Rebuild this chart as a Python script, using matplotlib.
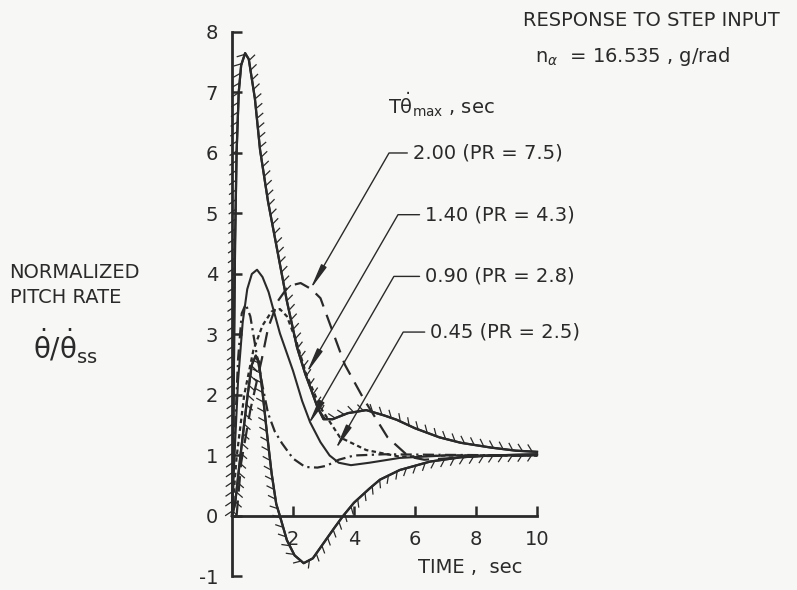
import numpy as np
import matplotlib
matplotlib.use("Agg")
import matplotlib.pyplot as plt
from matplotlib import patheffects, font_manager

# narrow lettering if a condensed face is around, else plain DejaVu a bit smaller
installed = {f.name for f in font_manager.fontManager.ttflist}
if 'DejaVu Sans Condensed' in installed:
    plt.rcParams['font.family'] = ['DejaVu Sans Condensed', 'DejaVu Sans']
    fs = 15
elif 'Liberation Sans Narrow' in installed:
    plt.rcParams['font.family'] = ['Liberation Sans Narrow', 'DejaVu Sans']
    fs = 16
else:
    plt.rcParams['font.family'] = ['DejaVu Sans']
    fs = 14
plt.rcParams['mathtext.fontset'] = 'dejavusans'
plt.rcParams['axes.unicode_minus'] = False

ink = '#2a2a2a'

# envelope boundaries (hatched)
t_upper = [0, 0.04, 0.07, 0.1, 0.15, 0.22, 0.3, 0.43, 0.55, 0.75, 0.92, 1.18, 1.5, 1.8, 2.13,
           2.4, 2.6, 2.8, 3.0, 3.3, 3.8, 4.4, 5.0, 5.4, 6.0, 6.8, 7.5, 8.5, 9.3, 10.0]
y_upper = [0, 1.0, 3.0, 4.5, 6.0, 7.0, 7.45, 7.65, 7.55, 6.9, 6.05, 5.2, 4.35, 3.55, 2.79,
           2.35, 2.08, 1.8, 1.6, 1.6, 1.7, 1.75, 1.66, 1.59, 1.45, 1.3, 1.21, 1.13, 1.08, 1.06]

t_lower = [0, 0.1, 0.3, 0.52, 0.65, 0.78, 0.88, 1.0, 1.15, 1.3, 1.45, 1.57, 1.8, 2.05,
           2.35, 2.65, 3.0, 3.35, 3.64, 4.0, 4.5, 4.85, 5.5, 6.5, 7.5, 8.5, 10.0]
y_lower = [0, 0.2, 1.1, 2.03, 2.5, 2.65, 2.55, 2.05, 1.35, 0.7, 0.2, 0, -0.4, -0.65,
           -0.78, -0.7, -0.45, -0.2, 0, 0.22, 0.45, 0.6, 0.76, 0.9, 0.97, 1.0, 1.02]

# responses, T theta-dot max = 2.00, 1.40, 0.90, 0.45 sec
t_200 = [0.15, 0.3, 0.6, 0.98, 1.18, 1.5, 1.85, 2.25, 2.6, 2.9, 3.3, 3.7, 4.3, 5.1, 5.8, 6.3, 7.0, 8.0, 10.0]
y_200 = [0, 0.88, 1.75, 2.6, 3.1, 3.55, 3.8, 3.85, 3.75, 3.6, 3.05, 2.5, 1.95, 1.3, 0.98, 0.93, 0.95, 0.99, 1.0]

t_140 = [0, 0.15, 0.4, 0.7, 1.0, 1.3, 1.57, 1.8, 2.1, 2.43, 2.89, 3.54, 4.4, 5.5, 7.0, 10.0]
y_140 = [0, 0.97, 2.0, 2.74, 3.15, 3.38, 3.42, 3.3, 2.9, 2.35, 1.8, 1.3, 1.09, 0.98, 1.0, 1.0]

t_090 = [0, 0.1, 0.2, 0.35, 0.5, 0.65, 0.82, 1.0, 1.2, 1.57, 2.0, 2.3, 2.56, 2.9, 3.2, 3.5, 3.9, 4.5, 5.5, 7.0, 10.0]
y_090 = [0, 1.2, 2.25, 3.2, 3.75, 4.0, 4.07, 3.95, 3.7, 3.02, 2.4, 1.9, 1.55, 1.22, 1.0, 0.88, 0.84, 0.88, 0.96, 1.0, 1.0]

t_045 = [0, 0.08, 0.2, 0.32, 0.45, 0.6, 0.8, 1.0, 1.18, 1.4, 1.64, 2.0, 2.4, 2.8, 3.1, 3.5, 4.0, 5.0, 7.0, 10.0]
y_045 = [0, 1.2, 2.6, 3.35, 3.5, 3.3, 2.7, 2.15, 1.7, 1.4, 1.2, 0.95, 0.81, 0.8, 0.83, 0.93, 1.0, 1.02, 1.01, 1.0]

labels = ['2.00 (PR = 7.5)', '1.40 (PR = 4.3)', '0.90 (PR = 2.8)', '0.45 (PR = 2.5)']
label_xy = [(5.93, 6.0), (6.33, 4.98), (6.33, 3.96), (6.5, 3.04)]
arrow_xy = [(2.56, 3.74), (2.43, 2.35), (2.49, 1.5), (3.38, 1.09)]

fig = plt.figure(figsize=(7.97, 5.90), dpi=100, facecolor='#f7f7f5')
ax = fig.add_axes([0.2911, 0.0229, 0.3827, 0.9229])
ax.set_facecolor('none')

hatch_up = patheffects.withTickedStroke(spacing=7, angle=125, length=0.8, linewidth=0.9)
hatch_dn = patheffects.withTickedStroke(spacing=7, angle=-125, length=0.8, linewidth=0.9)
ax.plot(t_upper, y_upper, color=ink, lw=1.6, clip_on=False,
        path_effects=[hatch_up, patheffects.Normal()])
ax.plot(t_lower, y_lower, color=ink, lw=1.6, clip_on=False,
        path_effects=[hatch_dn, patheffects.Normal()])

ax.plot(t_200, y_200, color=ink, lw=1.6, dashes=(7, 4), clip_on=False)
ax.plot(t_140, y_140, color=ink, lw=1.6, dashes=(2, 1.5), clip_on=False)
ax.plot(t_090, y_090, color=ink, lw=1.5, clip_on=False)
ax.plot(t_045, y_045, color=ink, lw=1.6, dashes=(5, 2, 1, 2), clip_on=False)

for lab, (lx, ly), (axx, ayy) in zip(labels, label_xy, arrow_xy):
    ax.annotate(lab, xy=(axx, ayy), xytext=(lx, ly), fontsize=fs, color=ink,
                va='center', ha='left', annotation_clip=False,
                arrowprops=dict(arrowstyle='-|>,head_length=1.1,head_width=0.13', color=ink, lw=1.0,
                                shrinkA=2, shrinkB=0,
                                connectionstyle='angle,angleA=0,angleB=60,rad=0'))

ax.text(5.1, 6.8, r'T$\dot{\mathrm{\theta}}_{\mathrm{max}}$ , sec', fontsize=fs, color=ink, va='center', ha='left')

ax.set_xlim(0, 10)
ax.set_ylim(-1, 8)
ax.spines['top'].set_visible(False)
ax.spines['right'].set_visible(False)
ax.spines['bottom'].set_position(('data', 0))
for s in ('left', 'bottom'):
    ax.spines[s].set_linewidth(2.0)
    ax.spines[s].set_color(ink)
ax.set_yticks(range(-1, 9))
ax.set_xticks([2, 4, 6, 8, 10])
ax.tick_params(axis='both', direction='in', length=7, width=1.8, color=ink, labelcolor=ink, labelsize=fs)
ax.tick_params(axis='y', pad=10)
ax.tick_params(axis='x', pad=10)

ax.text(7.8, -0.85, 'TIME ,  sec', fontsize=fs, color=ink, ha='center', va='center')

fig.text(0.012, 0.517, 'NORMALIZED\nPITCH RATE', fontsize=fs, color=ink, ha='left', va='center', linespacing=1.45)
fig.text(0.042, 0.413, r'$\dot{\mathrm{\theta}}/\dot{\mathrm{\theta}}_{\mathrm{ss}}$', fontsize=fs + 6, color=ink, ha='left', va='center')

fig.text(0.656, 0.965, 'RESPONSE TO STEP INPUT', fontsize=fs, color=ink, ha='left', va='center')
fig.text(0.671, 0.905, r'n$_{\alpha}$  = 16.535 , g/rad', fontsize=fs, color=ink, ha='left', va='center')

fig.savefig('out.png', dpi=100, facecolor=fig.get_facecolor())
